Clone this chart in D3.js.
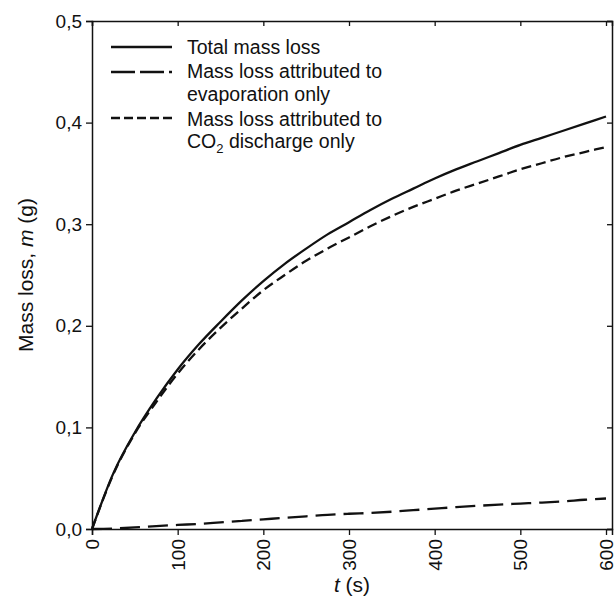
<!DOCTYPE html>
<html>
<head>
<meta charset="utf-8">
<script src="https://cdn.jsdelivr.net/npm/d3@7"></script>
<style>
  body { margin: 0; background: #fff; }
  text { font-family: "Liberation Sans", Arial, sans-serif; fill: #111; }
</style>
</head>
<body>
<div id="chart-container"></div>
<script>
// time (s)
const times = [0, 25, 50, 75, 100, 125, 150, 175, 200, 225, 250, 275, 300, 325, 350, 375, 400, 425, 450, 475, 500, 525, 550, 575, 600]
// total mass loss (g)
const totalLoss = [0, 0.055, 0.095, 0.128, 0.157, 0.182, 0.204, 0.225, 0.244, 0.261, 0.276, 0.290, 0.302, 0.314, 0.325, 0.335, 0.345, 0.354, 0.362, 0.370, 0.378, 0.385, 0.392, 0.399, 0.406]
// evaporation only
const evapLoss = [0, 0.0005, 0.0015, 0.0028, 0.004, 0.005, 0.0065, 0.008, 0.0095, 0.011, 0.0125, 0.014, 0.015, 0.0158, 0.017, 0.0185, 0.020, 0.0215, 0.0228, 0.024, 0.025, 0.026, 0.0272, 0.0288, 0.030]
// CO2 discharge only
const co2Loss = [0, 0.054, 0.094, 0.125, 0.153, 0.177, 0.198, 0.217, 0.235, 0.250, 0.264, 0.276, 0.287, 0.298, 0.308, 0.317, 0.325, 0.333, 0.340, 0.347, 0.354, 0.360, 0.366, 0.371, 0.376]

const xTicks = [0, 100, 200, 300, 400, 500, 600]
const yTicks = [0, 0.1, 0.2, 0.3, 0.4, 0.5]

const w = 616, h = 600
const pLeft = 92, pRight = 612, pTop = 21, pBottom = 529

const svg = d3.select('#chart-container')
  .append('svg')
  .attr('width', w)
  .attr('height', h)

const x = d3.scaleLinear().domain([0, 607]).range([pLeft, pRight])
const y = d3.scaleLinear().domain([0, 0.5]).range([pBottom, pTop])

const fmt = d => d3.format('.1f')(d).replace('.', ',')

// bottom axis, ticks outward, labels rotated
const xAxis = svg.append('g')
  .attr('transform', `translate(0, ${pBottom})`)
  .call(d3.axisBottom(x).tickValues(xTicks).tickSize(6).tickPadding(5))
xAxis.selectAll('text')
  .attr('transform', 'rotate(-90)')
  .attr('text-anchor', 'end')
  .attr('x', -10)
  .attr('y', 0)
  .attr('dy', '0.35em')
  .style('font-size', '19px')

// left axis
const yAxis = svg.append('g')
  .attr('transform', `translate(${pLeft}, 0)`)
  .call(d3.axisLeft(y).tickValues(yTicks).tickFormat(fmt).tickSize(6).tickPadding(4))
yAxis.selectAll('text').style('font-size', '19px')

// top and right, ticks inward
svg.append('g')
  .attr('transform', `translate(0, ${pTop})`)
  .call(d3.axisTop(x).tickValues(xTicks).tickSize(-5).tickFormat(''))
svg.append('g')
  .attr('transform', `translate(${pRight}, 0)`)
  .call(d3.axisRight(y).tickValues(yTicks).tickSize(-5).tickFormat(''))

svg.selectAll('.domain').attr('stroke', '#111').attr('stroke-width', 1.5)
svg.selectAll('.tick line').attr('stroke', '#111').attr('stroke-width', 1.3)
svg.selectAll('.tick text').attr('fill', '#111').style('font-family', '"Liberation Sans", Arial, sans-serif')

// curves
const line = d3.line()
  .x((d, i) => x(times[i]))
  .y(d => y(d))
  .curve(d3.curveMonotoneX)

const series = [
  { name: 'total', values: totalLoss, dash: null },
  { name: 'evap', values: evapLoss, dash: '20,8' },
  { name: 'co2', values: co2Loss, dash: '10,5' }
]

svg.selectAll('path.series')
  .data(series)
  .enter()
  .append('path')
  .attr('class', 'series')
  .attr('d', d => line(d.values))
  .attr('fill', 'none')
  .attr('stroke', '#111')
  .attr('stroke-width', 2.3)
  .attr('stroke-dasharray', d => d.dash)

// legend
const lg = svg.append('g').style('font-size', '19.5px')
const legendRows = [
  { y: 47, dash: null },
  { y: 72, dash: '24,5' },
  { y: 118, dash: '9,4' }
]
lg.selectAll('line')
  .data(legendRows)
  .enter()
  .append('line')
  .attr('x1', 111).attr('x2', 172)
  .attr('y1', d => d.y).attr('y2', d => d.y)
  .attr('stroke', '#111')
  .attr('stroke-width', 2.3)
  .attr('stroke-dasharray', d => d.dash)

lg.append('text').attr('x', 187).attr('y', 54).text('Total mass loss')
lg.append('text').attr('x', 187).attr('y', 78).text('Mass loss attributed to')
lg.append('text').attr('x', 187).attr('y', 101).text('evaporation only')
lg.append('text').attr('x', 187).attr('y', 126).text('Mass loss attributed to')
const co2 = lg.append('text').attr('x', 187).attr('y', 148)
co2.append('tspan').text('CO')
co2.append('tspan').attr('dy', 5).style('font-size', '13px').text('2')
co2.append('tspan').attr('dy', -5).text(' discharge only')

// axis titles
const xt = svg.append('text')
  .attr('x', 352).attr('y', 592)
  .attr('text-anchor', 'middle')
  .style('font-size', '21px')
xt.append('tspan').style('font-style', 'italic').text('t')
xt.append('tspan').text(' (s)')

const yt = svg.append('text')
  .attr('transform', `translate(33, ${(pTop + pBottom) / 2}) rotate(-90)`)
  .attr('text-anchor', 'middle')
  .style('font-size', '21px')
yt.append('tspan').text('Mass loss, ')
yt.append('tspan').style('font-style', 'italic').text('m')
yt.append('tspan').text(' (g)')
</script>
</body>
</html>
